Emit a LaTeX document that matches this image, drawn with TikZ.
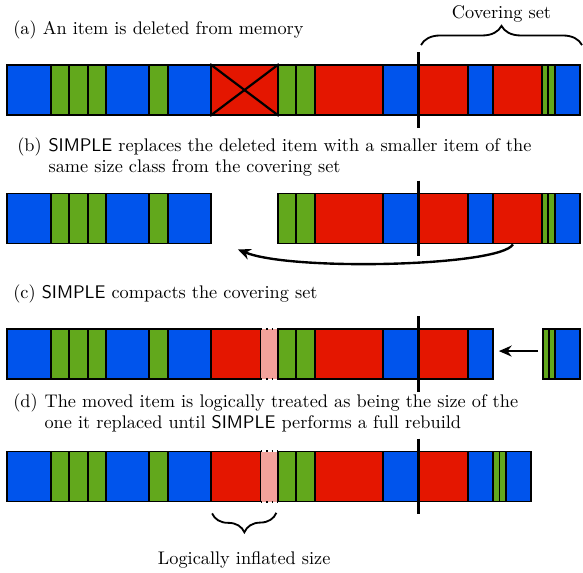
\documentclass[tikz,border=0pt]{standalone}
\usepackage{tikz}
\usepackage{xcolor}
\usetikzlibrary{positioning,decorations.pathreplacing,arrows.meta}
\definecolor{memblue}{RGB}{0,84,236}
\definecolor{memgreen}{RGB}{98,168,28}
\definecolor{memred}{RGB}{228,22,0}
\definecolor{mempink}{RGB}{242,162,155}
\tikzset{
cell/.style={rectangle, draw, line width=1pt, inner sep=0pt, minimum height=27.35pt},
bluebox/.style={cell, fill=memblue},
greenbox/.style={cell, fill=memgreen},
redbox/.style={cell, fill=memred},
ghostbox/.style={rectangle, inner sep=0pt, minimum height=27.35pt, fill=mempink},
captext/.style={inner sep=0pt, anchor=base west, align=left},
cover/.style={line width=1.6pt},
curly/.style={decorate, decoration={brace, amplitude=10.5pt}, line width=1pt},
mvarrow/.style={-{Stealth[length=7pt, width=6pt]}},
}
\begin{document}
\begin{tikzpicture}[x=0.547pt, y=-0.547pt]
\useasboundingbox (0,0) rectangle (583,573);

% (a) deleted item
\node[captext] (capA) at (13,34) {(a) An item is deleted from memory};
\foreach \s/\e/\st [count=\i] in {7/51/bluebox, 51/69/greenbox, 69/88/greenbox, 88/106/greenbox, 106/149/bluebox, 149/168/greenbox, 168/211/bluebox, 211/278/redbox, 278/296/greenbox, 296/315/greenbox, 315/383/redbox, 383/419/bluebox, 419/468/redbox, 468/493/bluebox, 493/542/redbox, 542/548/greenbox, 548/555/greenbox, 555/580/bluebox}
{
  \pgfmathsetmacro\w{(\e-\s)*0.547}
  \node[\st, minimum width=\w pt] (a\i) at ({(\s+\e)/2},90) {};
}
\draw[line width=1.2pt] (a8.north west) -- (a8.south east) (a8.south west) -- (a8.north east);
\draw[cover] ([yshift=6.6pt]a13.north west) -- ([yshift=-6.6pt]a13.south west);
\draw[curly] ([xshift=1.6pt,yshift=10.4pt]a13.north west) -- ([xshift=0.6pt,yshift=10.4pt]a18.north east)
  node[midway, above=12.2pt, inner sep=0pt] (covlbl) {Covering set};

% (b) replacement
\node[captext] (capB) at (17,151) {(b)};
\node[captext] (txtB) at ([xshift=3.33pt, yshift=-12pt]capB.base east) {\textsf{SIMPLE} replaces the deleted item with a smaller item of the\\same size class from the covering set};
\foreach \s/\e/\st [count=\i] in {7/51/bluebox, 51/69/greenbox, 69/88/greenbox, 88/106/greenbox, 106/149/bluebox, 149/168/greenbox, 168/211/bluebox, 278/296/greenbox, 296/315/greenbox, 315/383/redbox, 383/419/bluebox, 419/468/redbox, 468/493/bluebox, 493/542/redbox, 542/548/greenbox, 548/555/greenbox, 555/580/bluebox}
{
  \pgfmathsetmacro\w{(\e-\s)*0.547}
  \node[\st, minimum width=\w pt] (b\i) at ({(\s+\e)/2},218.5) {};
}
\draw[cover] ([yshift=6.6pt]b12.north west) -- ([yshift=-6.6pt]b12.south west);
\coordinate (bgap) at ([xshift=14.2pt,yshift=-2.7pt]b7.south east);
\draw[mvarrow, line width=1.3pt] ([xshift=-2.5pt]b14.south) .. controls +(-13,22) and +(53,22) .. (bgap);

% (c) compaction
\node[captext] (capC) at (13,298) {(c) \textsf{SIMPLE} compacts the covering set};
\foreach \s/\e/\st [count=\i] in {7/51/bluebox, 51/69/greenbox, 69/88/greenbox, 88/106/greenbox, 106/149/bluebox, 149/168/greenbox, 168/211/bluebox, 211/261/redbox, 261/278/ghostbox, 278/296/greenbox, 296/315/greenbox, 315/383/redbox, 383/419/bluebox, 419/468/redbox, 468/493/bluebox}
{
  \pgfmathsetmacro\w{(\e-\s)*0.547}
  \node[\st, minimum width=\w pt] (c\i) at ({(\s+\e)/2},354) {};
}
\foreach \s/\e/\st [count=\i] in {543/549/greenbox, 549/555/greenbox, 555/580/bluebox}
{
  \pgfmathsetmacro\w{(\e-\s)*0.547}
  \node[\st, minimum width=\w pt] (cp\i) at ({(\s+\e)/2},354) {};
}
\draw[line width=1pt, dotted] (c9.north west) -- (c9.north east) (c9.south west) -- (c9.south east);
\draw[cover] ([yshift=6.6pt]c14.north west) -- ([yshift=-6.6pt]c14.south west);
\draw[mvarrow, line width=1.4pt, shorten <=2.2pt, shorten >=2.7pt] ([yshift=1.6pt]cp1.west) -- ([yshift=1.6pt]c15.east);

% (d) logical size
\node[captext] (capD) at (13,407) {(d)};
\node[captext] (txtD) at ([xshift=3.33pt, yshift=-12pt]capD.base east) {The moved item is logically treated as being the size of the\\one it replaced until \textsf{SIMPLE} performs a full rebuild};
\foreach \s/\e/\st [count=\i] in {7/51/bluebox, 51/69/greenbox, 69/88/greenbox, 88/106/greenbox, 106/149/bluebox, 149/168/greenbox, 168/211/bluebox, 211/261/redbox, 261/278/ghostbox, 278/296/greenbox, 296/315/greenbox, 315/383/redbox, 383/419/bluebox, 419/468/redbox, 468/493/bluebox, 493/499.5/greenbox, 499.5/506/greenbox, 506/531/bluebox}
{
  \pgfmathsetmacro\w{(\e-\s)*0.547}
  \node[\st, minimum width=\w pt] (d\i) at ({(\s+\e)/2},476.5) {};
}
\draw[line width=1pt, dotted] (d9.north west) -- (d9.north east) (d9.south west) -- (d9.south east);
\draw[cover] ([yshift=6.6pt]d14.north west) -- ([yshift=-6.6pt]d14.south west);
\draw[curly] ([xshift=-1.1pt,yshift=-6pt]d9.south east) -- ([xshift=1.1pt,yshift=-6pt]d8.south west)
  node[midway, below=20.4pt, inner sep=0pt] (inflbl) {Logically inflated size};
\end{tikzpicture}
\end{document}
